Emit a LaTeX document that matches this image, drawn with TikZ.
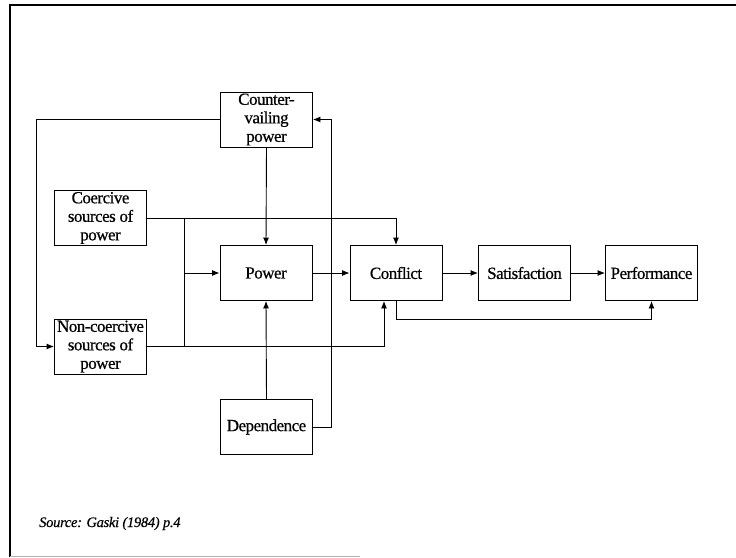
\documentclass[tikz,border=0pt]{standalone}
\usepackage{fontspec}
\setmainfont{Liberation Serif}
\newfontfamily\boxfont{Liberation Serif}[FakeBold=0.6,LetterSpace=-3]
\newfontfamily\notefont{Liberation Serif Italic}[FakeBold=0.5,LetterSpace=-2]
\usetikzlibrary{arrows.meta,calc}
\begin{document}
\begin{tikzpicture}[x=1pt,y=-1pt,
  box/.style={draw=black,line width=0.9pt,minimum width=92pt,minimum height=55pt,
    inner sep=0pt,align=center,font=\boxfont\fontsize{17}{18.5}\selectfont},
  link/.style={draw=black,line width=0.9pt},
  arr/.style={link,-{Latex[length=7.5pt,width=6pt]}}]
\useasboundingbox (0,0) rectangle (736,557);
% page frame
\draw[line width=2pt] (10,557) -- (10,5) -- (736,5);
\draw[gray!60,line width=0.8pt] (10,556) -- (360,556);

% boxes
\node[box] (cv) at (266.5,119.5) {Counter-\\vailing\\power};
\node[box] (co) at (100.5,218) {Coercive\\sources of\\power};
\node[box] (nc) at (100.5,346.5) {Non-coercive\\sources of\\power};
\node[box] (pw) at (266,273) {Power};
\node[box] (cf) at (396,273) {Conflict};
\node[box] (sa) at (524.5,273) {Satisfaction};
\node[box] (pf) at (651.5,273) {Performance};
\node[box] (de) at (266.5,427) {Dependence};

% routing columns and rows
\coordinate (lx) at (36,0);
\coordinate (jx) at (184,0);
\coordinate (rx) at (331,0);
\coordinate (by) at (0,319);

% connectors
\draw[arr] (cv.west) -| (lx |- nc.west) -- (nc.west);
\draw[arr] (co.east) -| (cf.north);
\draw[link] (jx |- co.east) -- (jx |- nc.east);
\draw[arr] (jx |- pw.west) -- (pw.west);
\draw[arr] (nc.east) -| ([xshift=-12pt]cf.south);
\draw[arr] (cv.south) -- (pw.north);
\draw[arr] (de.north) -- (pw.south);
\draw[arr] (de.east) -| (rx |- cv.east) -- (cv.east);
\draw[arr] (pw.east) -- (cf.west);
\draw[arr] (cf.east) -- (sa.west);
\draw[arr] (sa.east) -- (pf.west);
\draw[arr] (cf.south) -- (cf.south |- by) -| (pf.south);

% source note
\node[anchor=base west,inner sep=0pt,font=\notefont\fontsize{14.5}{16}\selectfont] (src) at (39,527) {Source: Gaski (1984) p.4};
\end{tikzpicture}
\end{document}
